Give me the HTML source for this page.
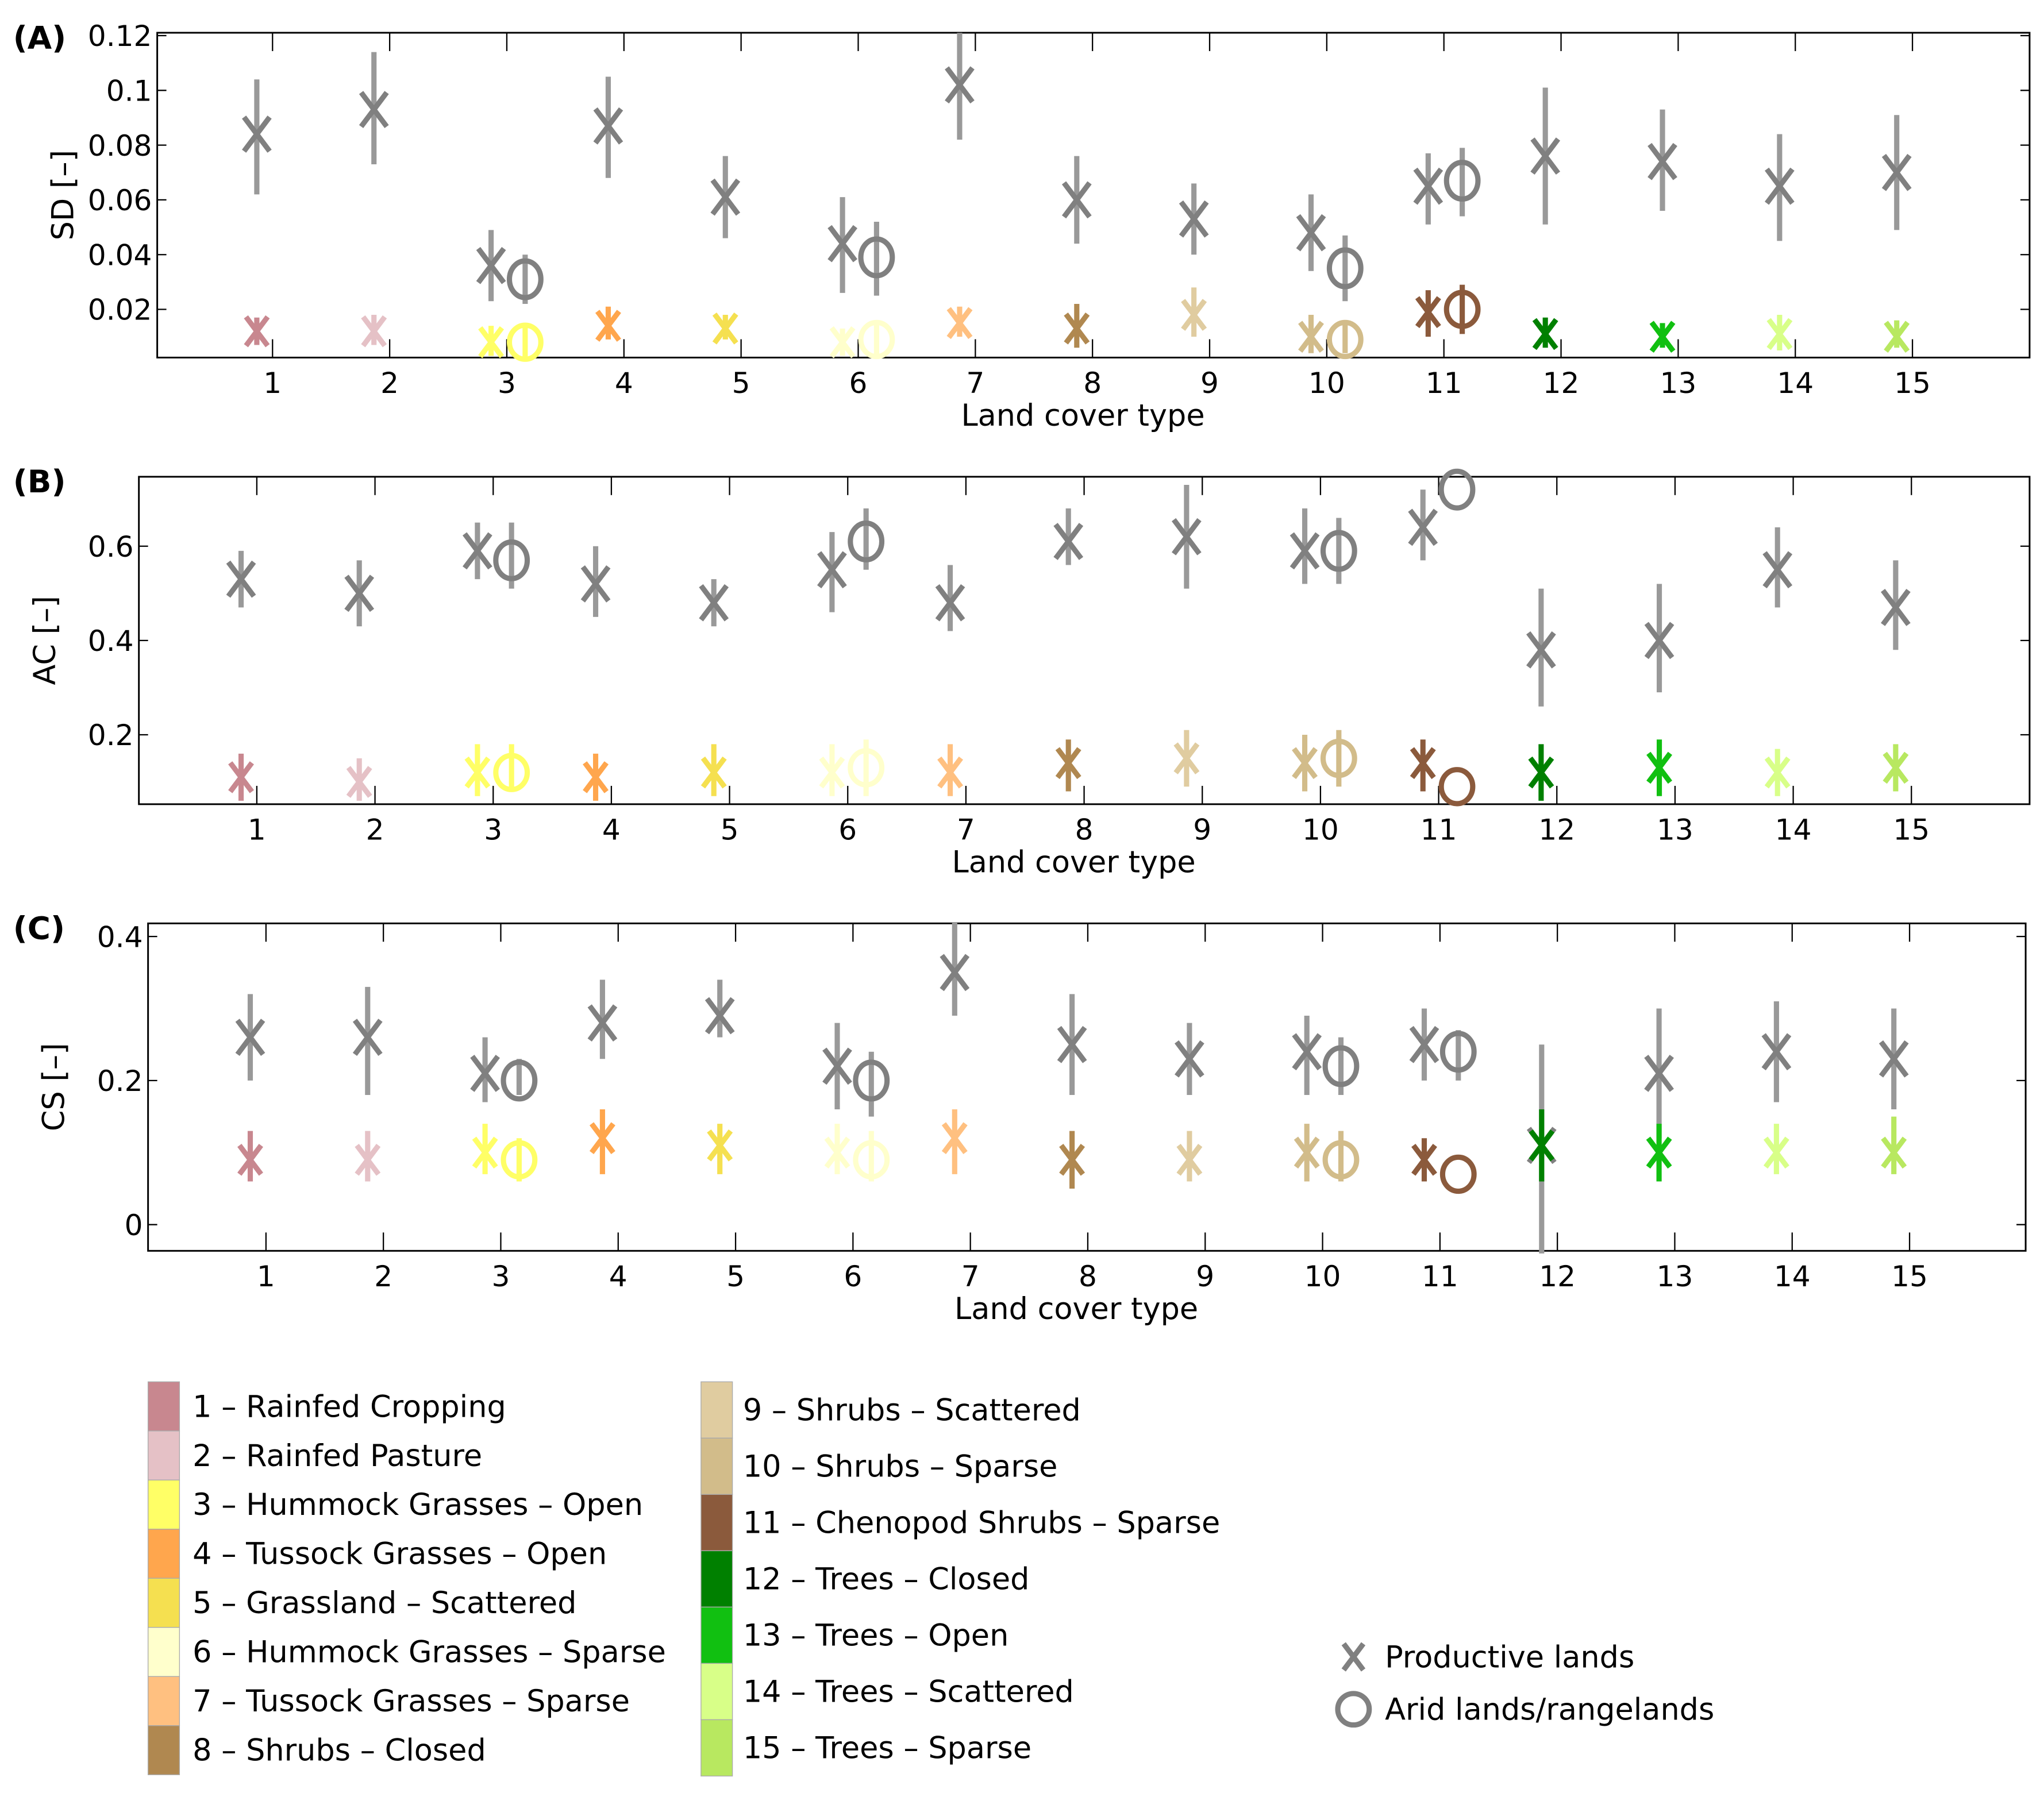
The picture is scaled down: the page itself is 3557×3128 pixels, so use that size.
<!DOCTYPE html>
<html><head><meta charset="utf-8"><style>
html,body{margin:0;padding:0;background:#fff;}
svg{display:block;font-family:"DejaVu Sans","Liberation Sans",sans-serif;}
</style></head><body>
<svg id="fig" width="3557" height="3128" viewBox="0 0 1560 1372" preserveAspectRatio="none" xmlns="http://www.w3.org/2000/svg"></svg>
<script>
const categories=[1,2,3,4,5,6,7,8,9,10,11,12,13,14,15];
const colors=['#c8878f','#e5c1c6','#ffff66','#ffa64d','#f5e050','#ffffcc','#ffc080','#b08850','#e0cca0','#d2bc8a','#8b5a3c','#008000','#11c011','#d8ff88','#b8e860'];
const legendNames=['1 – Rainfed Cropping','2 – Rainfed Pasture','3 – Hummock Grasses – Open','4 – Tussock Grasses – Open','5 – Grassland – Scattered','6 – Hummock Grasses – Sparse','7 – Tussock Grasses – Sparse','8 – Shrubs – Closed','9 – Shrubs – Scattered','10 – Shrubs – Sparse','11 – Chenopod Shrubs – Sparse','12 – Trees – Closed','13 – Trees – Open','14 – Trees – Scattered','15 – Trees – Sparse'];
const aridCats=[3,6,10,11];
// Panel A (SD)
const sdProd=[0.084,0.093,0.036,0.087,0.061,0.044,0.102,0.060,0.053,0.048,0.065,0.076,0.074,0.065,0.070];
const sdProdLo=[0.062,0.073,0.023,0.068,0.046,0.026,0.082,0.044,0.040,0.034,0.051,0.051,0.056,0.045,0.049];
const sdProdHi=[0.104,0.114,0.049,0.105,0.076,0.061,0.121,0.076,0.066,0.062,0.077,0.101,0.093,0.084,0.091];
const sdArid=[0.031,0.039,0.035,0.067];
const sdAridLo=[0.022,0.025,0.023,0.054];
const sdAridHi=[0.040,0.052,0.047,0.079];
const sdCol=[0.012,0.012,0.008,0.014,0.013,0.008,0.015,0.013,0.018,0.010,0.019,0.011,0.010,0.011,0.010];
const sdColLo=[0.007,0.007,0.003,0.009,0.009,0.003,0.010,0.006,0.010,0.004,0.010,0.006,0.006,0.005,0.006];
const sdColHi=[0.017,0.018,0.014,0.021,0.018,0.013,0.021,0.022,0.028,0.018,0.027,0.017,0.015,0.018,0.016];
const sdColArid=[0.008,0.009,0.009,0.020];
const sdColAridLo=[0.002,0.003,0.004,0.011];
const sdColAridHi=[0.014,0.015,0.015,0.029];
const sdTicks=[0.02,0.04,0.06,0.08,0.1,0.12];
// Panel B (AC)
const acProd=[0.53,0.50,0.59,0.52,0.48,0.55,0.48,0.61,0.62,0.59,0.64,0.38,0.40,0.55,0.47];
const acProdLo=[0.47,0.43,0.53,0.45,0.43,0.46,0.42,0.56,0.51,0.52,0.57,0.26,0.29,0.47,0.38];
const acProdHi=[0.59,0.57,0.65,0.60,0.53,0.63,0.56,0.68,0.73,0.68,0.72,0.51,0.52,0.64,0.57];
const acArid=[0.57,0.61,0.59,0.72];
const acAridLo=[0.51,0.55,0.52,0.72];
const acAridHi=[0.65,0.68,0.66,0.72];
const acCol=[0.11,0.10,0.12,0.11,0.12,0.12,0.12,0.14,0.15,0.14,0.14,0.12,0.13,0.12,0.13];
const acColLo=[0.06,0.06,0.07,0.06,0.07,0.07,0.07,0.08,0.09,0.08,0.08,0.06,0.07,0.07,0.08];
const acColHi=[0.16,0.15,0.18,0.16,0.18,0.18,0.18,0.19,0.21,0.20,0.19,0.18,0.19,0.17,0.18];
const acColArid=[0.12,0.13,0.15,0.09];
const acColAridLo=[0.08,0.07,0.09,0.09];
const acColAridHi=[0.18,0.19,0.21,0.09];
const acTicks=[0.2,0.4,0.6];
// Panel C (CS)
const csProd=[0.26,0.26,0.21,0.28,0.29,0.22,0.35,0.25,0.23,0.24,0.25,0.11,0.21,0.24,0.23];
const csProdLo=[0.20,0.18,0.17,0.23,0.26,0.16,0.29,0.18,0.18,0.18,0.20,-0.04,0.12,0.17,0.16];
const csProdHi=[0.32,0.33,0.26,0.34,0.34,0.28,0.42,0.32,0.28,0.29,0.30,0.25,0.30,0.31,0.30];
const csArid=[0.20,0.20,0.22,0.24];
const csAridLo=[0.18,0.15,0.18,0.20];
const csAridHi=[0.23,0.24,0.26,0.27];
const csCol=[0.09,0.09,0.10,0.12,0.11,0.10,0.12,0.09,0.09,0.10,0.09,0.11,0.10,0.10,0.10];
const csColLo=[0.06,0.06,0.07,0.07,0.07,0.07,0.07,0.05,0.06,0.06,0.06,0.06,0.06,0.07,0.07];
const csColHi=[0.13,0.13,0.14,0.16,0.14,0.14,0.16,0.13,0.13,0.14,0.12,0.16,0.14,0.14,0.15];
const csColArid=[0.09,0.09,0.09,0.07];
const csColAridLo=[0.06,0.06,0.06,0.07];
const csColAridHi=[0.12,0.13,0.13,0.07];
const csTicks=[0,0.2,0.4];

const NS='http://www.w3.org/2000/svg';
const svg=document.getElementById('fig');
function mk(tag,attrs,parent){const e=document.createElementNS(NS,tag);for(const k in attrs)e.setAttribute(k,attrs[k]);(parent||svg).appendChild(e);return e;}
function txt(s,attrs,parent){const e=mk('text',attrs,parent);e.textContent=s;return e;}

function drawCross(g,cx,cy,s,col,w){
  const a=s*0.75;
  mk('path',{d:`M${cx-a},${cy-s} L${cx+a},${cy+s} M${cx+a},${cy-s} L${cx-a},${cy+s}`,stroke:col,'stroke-width':w,fill:'none'},g);
}
function panel(p){
  const g=mk('g',{});
  
  
  const X=c=>p.x1+(c-1)*p.step;
  const Y=v=>p.y0-v*p.ppu;
  const box=mk('rect',{x:p.L,y:p.T,width:p.R-p.L,height:p.B-p.T,fill:'#fff',stroke:'#000','stroke-width':1.3},g);
  
  
  categories.forEach(c=>{
    const x=X(c);
    mk('line',{x1:x,y1:p.B,x2:x,y2:p.B-14,stroke:'#000','stroke-width':1},g);
    mk('line',{x1:x,y1:p.T,x2:x,y2:p.T+14,stroke:'#000','stroke-width':1},g);
    const t=txt(String(c),{x:x,y:p.B+27,'font-size':22,'text-anchor':'middle',fill:'#000'},g);
    
    
  });
  p.ticks.forEach(v=>{
    const y=Y(v);
    mk('line',{x1:p.L,y1:y,x2:p.L+7,y2:y,stroke:'#000','stroke-width':1},g);
    mk('line',{x1:p.R,y1:y,x2:p.R-7,y2:y,stroke:'#000','stroke-width':1},g);
    const t=txt(String(v),{x:p.L-4,y:y+8,'font-size':22,'text-anchor':'end',fill:'#000'},g);
    
    
  });
  const xl=txt('Land cover type',{x:(p.L+p.R)/2-8,y:p.B+52,'font-size':23,'text-anchor':'middle'},g);
  
  
  const yl=txt(p.ylabel,{x:0,y:0,'font-size':23,'text-anchor':'middle',transform:`translate(${p.L-64},${(p.T+p.B)/2}) rotate(-90)`},g);
  
  
  const pl=txt(p.label,{x:10,y:p.T+12,'font-size':24,'font-weight':'bold'},g);
  
  
  const gray='#808080';
  categories.forEach((c,i)=>{
    const x=X(c)-12;
    const m=mk('g',{},g);
    
    
    mk('line',{x1:x,y1:Y(p.prodLo[i]),x2:x,y2:Y(p.prodHi[i]),stroke:'#999','stroke-width':4},m);
    drawCross(m,x,Y(p.prod[i]),13,gray,4);
  });
  aridCats.forEach((c,i)=>{
    const x=X(c)+14;
    const m=mk('g',{},g);
    
    
    mk('line',{x1:x,y1:Y(p.aridLo[i]),x2:x,y2:Y(p.aridHi[i]),stroke:'#999','stroke-width':4},m);
    mk('ellipse',{cx:x,cy:Y(p.arid[i]),rx:12,ry:14,fill:'none',stroke:gray,'stroke-width':4},m);
  });
  categories.forEach((c,i)=>{
    const x=X(c)-12;const col=colors[i];
    const m=mk('g',{},g);
    
    
    mk('line',{x1:x,y1:Y(p.colLo[i]),x2:x,y2:Y(p.colHi[i]),stroke:col,'stroke-width':4},m);
    drawCross(m,x,Y(p.col[i]),11,col,4);
  });
  aridCats.forEach((c,i)=>{
    const x=X(c)+14;const col=colors[c-1];
    const m=mk('g',{},g);
    
    
    mk('line',{x1:x,y1:Y(p.colAridLo[i]),x2:x,y2:Y(p.colAridHi[i]),stroke:col,'stroke-width':4},m);
    mk('ellipse',{cx:x,cy:Y(p.colArid[i]),rx:12,ry:13,fill:'none',stroke:col,'stroke-width':4},m);
  });
}
panel({name:'panel-a-sd',label:'(A)',ylabel:'SD [–]',L:120,R:1549,T:25,B:273,x1:208,step:89.4,y0:278,ppu:2090,ticks:sdTicks,
 prod:sdProd,prodLo:sdProdLo,prodHi:sdProdHi,arid:sdArid,aridLo:sdAridLo,aridHi:sdAridHi,col:sdCol,colLo:sdColLo,colHi:sdColHi,colArid:sdColArid,colAridLo:sdColAridLo,colAridHi:sdColAridHi});
panel({name:'panel-b-ac',label:'(B)',ylabel:'AC [–]',L:106,R:1549,T:364,B:614,x1:196,step:90.2,y0:633,ppu:360,ticks:acTicks,
 prod:acProd,prodLo:acProdLo,prodHi:acProdHi,arid:acArid,aridLo:acAridLo,aridHi:acAridHi,col:acCol,colLo:acColLo,colHi:acColHi,colArid:acColArid,colAridLo:acColAridLo,colAridHi:acColAridHi});
panel({name:'panel-c-cs',label:'(C)',ylabel:'CS [–]',L:113,R:1546,T:705,B:955,x1:203,step:89.6,y0:935,ppu:550,ticks:csTicks,
 prod:csProd,prodLo:csProdLo,prodHi:csProdHi,arid:csArid,aridLo:csAridLo,aridHi:csAridHi,col:csCol,colLo:csColLo,colHi:csColHi,colArid:csColArid,colAridLo:csColAridLo,colAridHi:csColAridHi});

const lg=mk('g',{});


legendNames.forEach((n,i)=>{
  let sx,sy,h,tx;
  if(i<8){sx=113;h=37.5;sy=1055+i*h;tx=147;}
  else{sx=535;h=43;sy=1055+(i-8)*h;tx=567;}
  const e=mk('g',{},lg);
  
  
  mk('rect',{x:sx,y:sy,width:24,height:h,fill:colors[i],stroke:'#aaa','stroke-width':0.6},e);
  txt(n,{x:tx,y:sy+h/2+8,'font-size':23},e);
});
const l1=mk('g',{},lg);


drawCross(l1,1033,1265,10,'#808080',4);
txt('Productive lands',{x:1057,y:1273,'font-size':23},l1);
const l2=mk('g',{},lg);


mk('circle',{cx:1033,cy:1305,r:12,fill:'none',stroke:'#808080','stroke-width':4},l2);
txt('Arid lands/rangelands',{x:1057,y:1313,'font-size':23},l2);
</script>
</body></html>
